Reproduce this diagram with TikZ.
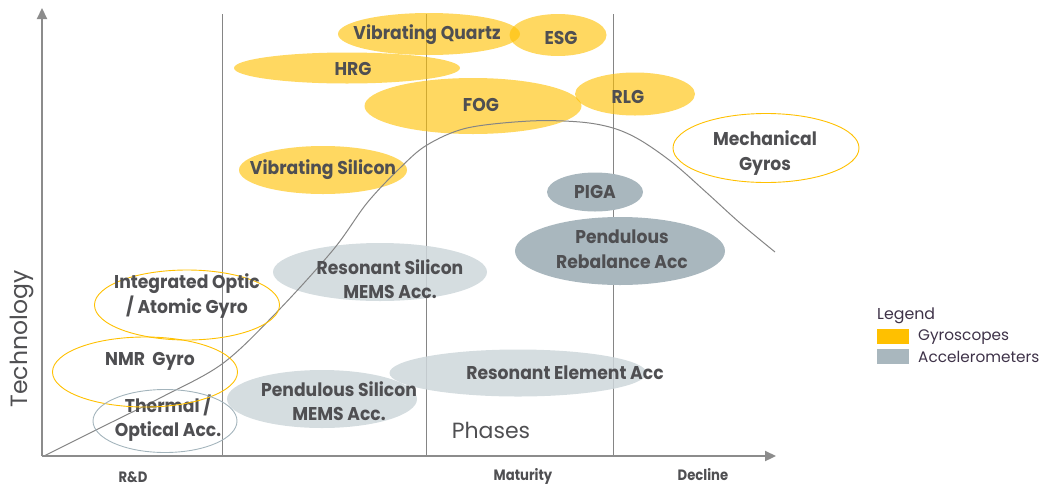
\documentclass[tikz,border=0pt]{standalone}
\usepackage{fontspec}
\setmainfont{Poppins}
\newfontfamily\lblfont[FakeStretch=0.93]{Poppins}
\newfontfamily\phasefont[FakeStretch=0.88]{Poppins}
\usetikzlibrary{arrows.meta,shapes.geometric}
\definecolor{gyro}{HTML}{FFC000}
\definecolor{accdark}{HTML}{A9B7BE}
\definecolor{acclight}{HTML}{CED7DB}
\definecolor{accoutline}{HTML}{A3B4BC}
\definecolor{axisgrey}{HTML}{8C8C8C}
\definecolor{phasegrey}{HTML}{858585}
\definecolor{txt}{HTML}{4F4F52}
\definecolor{legendtxt}{HTML}{3E3248}
\tikzset{
  gyrofill/.style={ellipse, fill=gyro, fill opacity=0.62, draw=none, inner sep=0pt},
  gyroring/.style={ellipse, draw=gyro, line width=0.9pt, fill=none, inner sep=0pt},
  accring/.style={ellipse, draw=accoutline, line width=0.9pt, fill=none, inner sep=0pt},
  accsolid/.style={ellipse, fill=accdark, draw=none, inner sep=0pt},
  accsoft/.style={ellipse, fill=acclight, fill opacity=0.85, draw=none, inner sep=0pt},
  lbl/.style={text=txt, align=center, inner sep=0pt, font=\lblfont\bfseries\fontsize{18.5}{24.5}\selectfont},
  phaselbl/.style={text=txt, inner sep=0pt, font=\phasefont\bfseries\fontsize{15}{17}\selectfont},
  legendlbl/.style={text=legendtxt, anchor=west, inner sep=0pt, font=\fontsize{15.3}{17}\selectfont},
  swatch/.style={minimum width=32pt, minimum height=14.5pt, inner sep=0pt, draw=none},
  phaseline/.style={draw=phasegrey, line width=0.8pt},
  axis/.style={draw=axisgrey, line width=2.2pt, -{Triangle[length=11pt,width=10pt]}}
}
\begin{document}
\begin{tikzpicture}[x=1pt,y=-1pt]
\useasboundingbox (0,0) rectangle (1048,488);

% phase boundaries
\coordinate (p1t) at (222,14); \coordinate (p1b) at (222,456);
\coordinate (p2t) at (426,14); \coordinate (p2b) at (426,456);
\coordinate (p3t) at (613,14); \coordinate (p3b) at (613,456);
\draw[phaseline] (p1t) -- (p1b);
\draw[phaseline] (p2t) -- (p2b);
\draw[phaseline] (p3t) -- (p3b);

% gyroscope technologies
\node[gyrofill, minimum width=182pt, minimum height=42pt] (vq) at (429,34) {};
\node[gyrofill, minimum width=97pt, minimum height=42pt] (esg) at (558,35) {};
\node[gyrofill, minimum width=226pt, minimum height=31pt] (hrg) at (347,68) {};
\node[gyrofill, minimum width=217pt, minimum height=56pt] (fog) at (473,106) {};
\node[gyrofill, minimum width=120pt, minimum height=43pt] (rlg) at (635,94) {};
\node[gyrofill, minimum width=168pt, minimum height=48pt] (vs) at (323,170) {};

% accelerometer technologies
\node[accsoft, minimum width=214pt, minimum height=58pt] (rsm) at (380,272) {};
\node[accsoft, minimum width=257pt, minimum height=47pt] (rea) at (518,373) {};
\node[accsoft, minimum width=190pt, minimum height=58pt] (psm) at (322,399) {};
\node[accsolid, minimum width=96pt, minimum height=39pt] (piga) at (595,192) {};
\node[accsolid, minimum width=210pt, minimum height=68pt] (pra) at (620,251) {};

% technology life curve
\draw[draw=phasegrey, line width=1pt] plot[smooth, tension=0.55] coordinates
  {(44,456) (100,428) (160,398) (222,364) (275,314) (333,250) (367,203) (400,168)
   (427,145) (467,128) (530,121) (580,122) (613,128) (640,140) (673,163)
   (707,193) (740,223) (775,252)};

% label partly crossed by the NMR ring
\node[lbl] (thmt) at (168,418) {Thermal /\\Optical Acc.};

% outlined (emerging / legacy) technologies
\node[gyroring, minimum width=186pt, minimum height=69pt] (mech) at (766,148) {};
\node[gyroring, minimum width=185pt, minimum height=70pt] (iog) at (187,305) {};
\node[gyroring, minimum width=185pt, minimum height=70pt] (nmr) at (145,372) {};
\node[accring, minimum width=144pt, minimum height=63pt] (thm) at (165,421) {};

% labels
\node[lbl] (vqt) at (427,35) {Vibrating Quartz};
\node[lbl] (esgt) at (561,38) {ESG};
\node[lbl] (hrgt) at (353,69) {HRG};
\node[lbl] (fogt) at (481,105) {FOG};
\node[lbl] (rlgt) at (628,97) {RLG};
\node[lbl] (vst) at (323,170) {Vibrating Silicon};
\node[lbl] (mecht) at (765,153) {Mechanical\\Gyros};
\node[lbl] (pigat) at (595,192) {PIGA};
\node[lbl] (prat) at (622,249) {Pendulous\\Rebalance Acc};
\node[lbl] (rsmt) at (390,279) {Resonant Silicon\\MEMS Acc.};
\node[lbl] (reat) at (565,373) {Resonant Element Acc};
\node[lbl] (psmt) at (339,401) {Pendulous Silicon\\MEMS Acc.};
\node[lbl] (iogt) at (187,296) {Integrated Optic\\/ Atomic Gyro};
\node[lbl] (nmrt) at (150,361) {NMR\ \ Gyro};

% axes
\coordinate (orig) at (42,456);
\coordinate (ytip) at (42,8);
\coordinate (xtip) at (776,456);
\draw[axis] (orig) -- (ytip);
\draw[axis] (orig) -- (xtip);
\node[text=txt, rotate=90, inner sep=0pt, font=\fontsize{23.5}{26}\selectfont] (tech) at (22,339) {Technology};
\node[text=txt, inner sep=0pt, font=\fontsize{22}{24}\selectfont] (phases) at (491,430) {Phases};
\node[phaselbl] (rd) at (133,477) {R\&D};
\node[phaselbl] (mat) at (523,476) {Maturity};
\node[phaselbl] (dec) at (703,475) {Decline};

% legend
\node[text=legendtxt, anchor=west, inner sep=0pt, font=\fontsize{15.8}{18}\selectfont] (leg) at (877,316) {Legend};
\node[swatch, fill=gyro, anchor=north west] (sw1) at (877,329) {};
\node[swatch, fill=accdark, anchor=north west] (sw2) at (877,349) {};
\node[legendlbl] (lg1) at (918,337) {Gyroscopes};
\node[legendlbl] (lg2) at (918,357) {Accelerometers};
\end{tikzpicture}
\end{document}
